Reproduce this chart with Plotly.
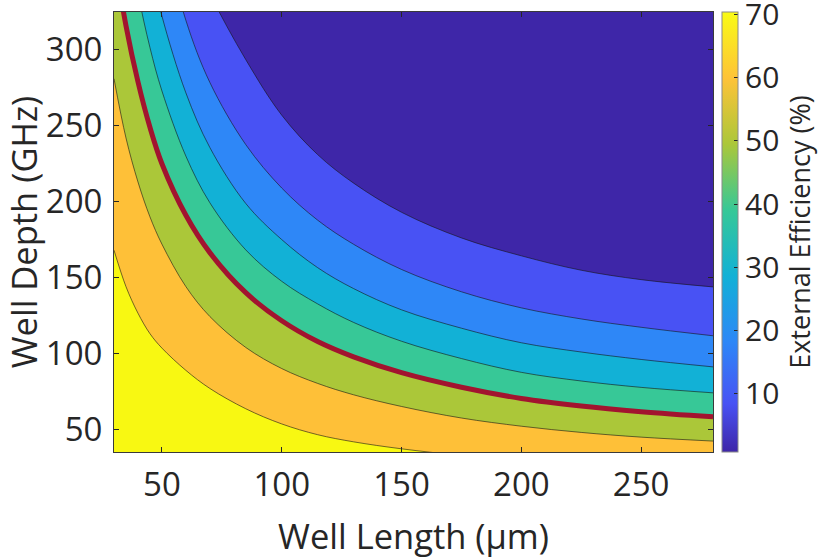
import plotly.graph_objects as go

# ---- data (contour boundaries of External Efficiency) ----
well_length = [30, 35, 40, 45, 50, 60, 70, 85, 100, 115, 130, 150, 175, 200, 225, 250, 280]

# Well Depth (GHz) of each iso-efficiency contour at the Well Length values above
depth_10 = [545, 505, 470, 440, 415, 372, 337, 293.6, 257, 231, 212.2, 193, 176.1, 164.3, 154.8, 148.6, 143.8]
depth_20 = [623, 537, 471, 420, 380, 319.5, 278.6, 237.6, 209, 187.8, 171.9, 155.3, 140.6, 130, 122.7, 117.2, 111.6]
depth_30 = [527, 454, 400, 357, 322.4, 271.7, 235.7, 198.8, 175, 156.5, 142.7, 128.7, 116.6, 107, 100.9, 96, 91.1]
depth_40 = [443, 383, 337.5, 301.6, 273, 230, 199.3, 168.2, 147.5, 132.6, 120.4, 108, 96.6, 87.5, 81.8, 77.6, 74]
depth_50 = [363, 316, 279, 249, 225, 191, 166.4, 140, 121.5, 107.8, 97.7, 87.3, 77.7, 70.3, 65.3, 61.6, 58.2]
depth_60 = [281, 242, 213, 190, 172, 144, 124.3, 103.9, 90, 80.2, 72.7, 65, 57.4, 52, 47.9, 44.8, 42.2]
depth_70 = [168, 144, 126.5, 113, 103.5, 88.8, 76.9, 63.5, 53.5, 46.4, 41.7, 37.1, 32.7, 29.3, 26.4, 24.2, 22.0]

levels = [10, 20, 30, 40, 50, 60, 70]
contours = [depth_10, depth_20, depth_30, depth_40, depth_50, depth_60, depth_70]
highlight_level = 50

x_ticks = [50, 100, 150, 200, 250]
y_ticks = [50, 100, 150, 200, 250, 300]
cbar_ticks = [10, 20, 30, 40, 50, 60, 70]
x_range = [30, 280]
y_range = [35, 325]
z_min, z_max = 0.8, 70.4

# ---- styling ----
base_color = "rgb(62,38,168)"
band_colors = ["rgb(72,82,244)", "rgb(46,135,247)", "rgb(18,177,214)", "rgb(55,200,151)",
               "rgb(171,199,57)", "rgb(254,192,56)", "rgb(248,248,18)"]
parula = [
    [0.00, "rgb(62,38,168)"], [0.11, "rgb(72,82,244)"], [0.25, "rgb(46,135,247)"],
    [0.40, "rgb(18,177,214)"], [0.55, "rgb(55,200,151)"], [0.70, "rgb(171,199,57)"],
    [0.85, "rgb(254,195,56)"], [1.00, "rgb(249,251,21)"],
]
text_color = "#262626"
font_family = "Open Sans, Noto Sans, sans-serif"

fig = go.Figure()

# filled bands (region below each contour has higher efficiency)
for lvl, ys, col in zip(levels, contours, band_colors):
    fig.add_trace(go.Scatter(
        x=well_length, y=ys, mode="lines",
        line=dict(width=0, shape="spline", smoothing=1.0),
        fill="tozeroy", fillcolor=col, hoverinfo="skip", showlegend=False))

# thin black contour lines
for lvl, ys in zip(levels, contours):
    fig.add_trace(go.Scatter(
        x=well_length, y=ys, mode="lines",
        line=dict(width=0.7, color="rgba(20,20,20,0.85)", shape="spline", smoothing=1.0),
        hoverinfo="skip", showlegend=False))

# highlighted 50% contour
fig.add_trace(go.Scatter(
    x=well_length, y=contours[levels.index(highlight_level)], mode="lines",
    line=dict(width=5, color="#A2142F", shape="spline", smoothing=1.0),
    hoverinfo="skip", showlegend=False))

# colorbar carrier
fig.add_trace(go.Scatter(
    x=[None], y=[None], mode="markers", hoverinfo="skip", showlegend=False,
    marker=dict(color=[z_min], cmin=z_min, cmax=z_max, colorscale=parula, showscale=True,
                colorbar=dict(
                    x=1.015, xanchor="left", xpad=0, ypad=0, y=0.5, yanchor="middle",
                    len=1, lenmode="fraction", thickness=16,
                    outlinecolor="#8a8a8a", outlinewidth=1,
                    tickvals=cbar_ticks, ticks="inside", ticklen=4, tickcolor=text_color,
                    ticklabeloverflow="allow",
                    tickfont=dict(size=30, color=text_color, family=font_family),
                    title=dict(text="External Efficiency (%)", side="right",
                               font=dict(size=27, color=text_color, family=font_family))))))

axis_common = dict(showgrid=False, zeroline=False, showline=True, linecolor="#3a3a3a",
                   linewidth=1, mirror="ticks", ticks="inside", ticklen=5, tickcolor="#262626",
                   tickfont=dict(size=33, color=text_color, family=font_family))

fig.update_layout(
    width=821, height=560,
    margin=dict(l=114, r=108, t=12, b=108, autoexpand=False),
    paper_bgcolor="white", plot_bgcolor=base_color,
    font=dict(family=font_family, color=text_color),
    xaxis=dict(range=x_range, tickvals=x_ticks, ticklabelstandoff=3, **axis_common,
               title=dict(text="Well Length (μm)", font=dict(size=34.5, color=text_color), standoff=20)),
    yaxis=dict(range=y_range, tickvals=y_ticks, ticklabelstandoff=4, **axis_common,
               title=dict(text="Well Depth (GHz)", font=dict(size=34.5, color=text_color), standoff=4)),
)

fig.write_html("out.html", config={"displayModeBar": False},
               post_script="document.body.style.margin='0';document.body.style.padding='0';")
